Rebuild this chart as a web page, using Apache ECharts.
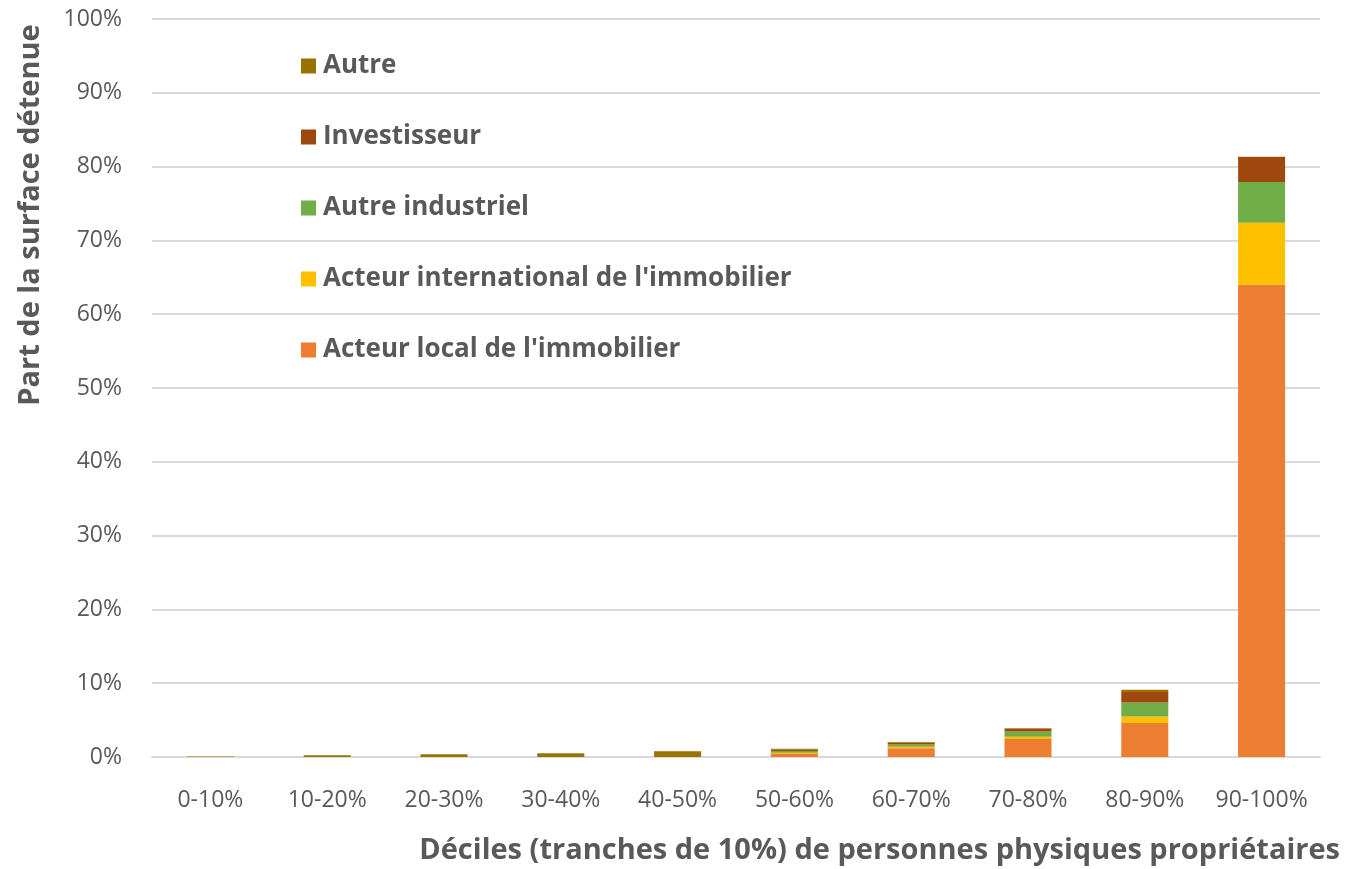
<!DOCTYPE html>
<html><head><meta charset="utf-8">
<script src="https://cdn.jsdelivr.net/npm/echarts@6/dist/echarts.min.js"></script>
<style>html,body{margin:0;padding:0;background:#fff}#c{width:1361px;height:869px}</style>
</head><body><div id="c"></div>
<script>
const categories = ['0-10%','10-20%','20-30%','30-40%','40-50%','50-60%','60-70%','70-80%','80-90%','90-100%'];
const acteurLocal = [0, 0, 0, 0, 0, 0.4, 1.2, 2.45, 4.6, 64.0];
const acteurIntl = [0, 0, 0, 0, 0, 0.18, 0.18, 0.3, 0.9, 8.4];
const autreIndustriel = [0, 0, 0, 0, 0, 0.23, 0.32, 0.7, 1.9, 5.5];
const investisseur = [0, 0, 0, 0, 0, 0.18, 0.23, 0.4, 1.4, 3.4];
const autre = [0.08, 0.23, 0.36, 0.5, 0.77, 0.13, 0.1, 0.05, 0.3, 0.05];
const yTicks = [0,10,20,30,40,50,60,70,80,90,100];

const FONT = 'Open Sans';
const TXT = '#595959';
const chart = echarts.init(document.getElementById('c'));
function s(name, data, color){
  return {name, type:'bar', stack:'t', data, barWidth:47, itemStyle:{color}, emphasis:{disabled:true}};
}
chart.setOption({
  animation:false,
  textStyle:{fontFamily:FONT},
  grid:{left:152, right:41, top:19, bottom:112, containLabel:false},
  legend:{
    orient:'vertical', left:296, top:48, itemWidth:15, itemHeight:15, itemGap:45,
    icon:'rect',
    data:['Autre','Investisseur','Autre industriel',"Acteur international de l'immobilier","Acteur local de l'immobilier"],
    textStyle:{fontFamily:FONT, fontSize:26, fontWeight:'bold', color:TXT, padding:[0,0,0,2]}
  },
  xAxis:{type:'category', data:categories,
    axisLine:{show:true, lineStyle:{color:'#D9D9D9', width:2}}, axisTick:{show:false},
    axisLabel:{fontFamily:FONT, fontSize:23, color:TXT, margin:32, interval:0}},
  yAxis:{type:'value', min:0, max:100, interval:10,
    axisLabel:{fontFamily:FONT, fontSize:23, color:TXT, margin:30, formatter:v=> yTicks.includes(v)? v+'%' : ''},
    splitLine:{lineStyle:{color:'#D9D9D9', width:2}}, axisLine:{show:false}, axisTick:{show:false}},
  graphic:[
    {type:'text', x:1340, y:851, style:{text:'Déciles (tranches de 10%) de personnes physiques propriétaires', fontFamily:FONT, fontSize:29, fontWeight:'bold', fill:TXT, align:'right', verticalAlign:'middle'}},
    {type:'text', x:31, y:215, rotation:Math.PI/2, style:{text:'Part de la surface détenue', fontFamily:FONT, fontSize:29, fontWeight:'bold', fill:TXT, align:'center', verticalAlign:'middle'}}
  ],
  series:[
    s("Acteur local de l'immobilier", acteurLocal, '#ED7D31'),
    s("Acteur international de l'immobilier", acteurIntl, '#FFC000'),
    s('Autre industriel', autreIndustriel, '#70AD47'),
    s('Investisseur', investisseur, '#9E480E'),
    s('Autre', autre, '#997300')
  ]
});
</script></body></html>
